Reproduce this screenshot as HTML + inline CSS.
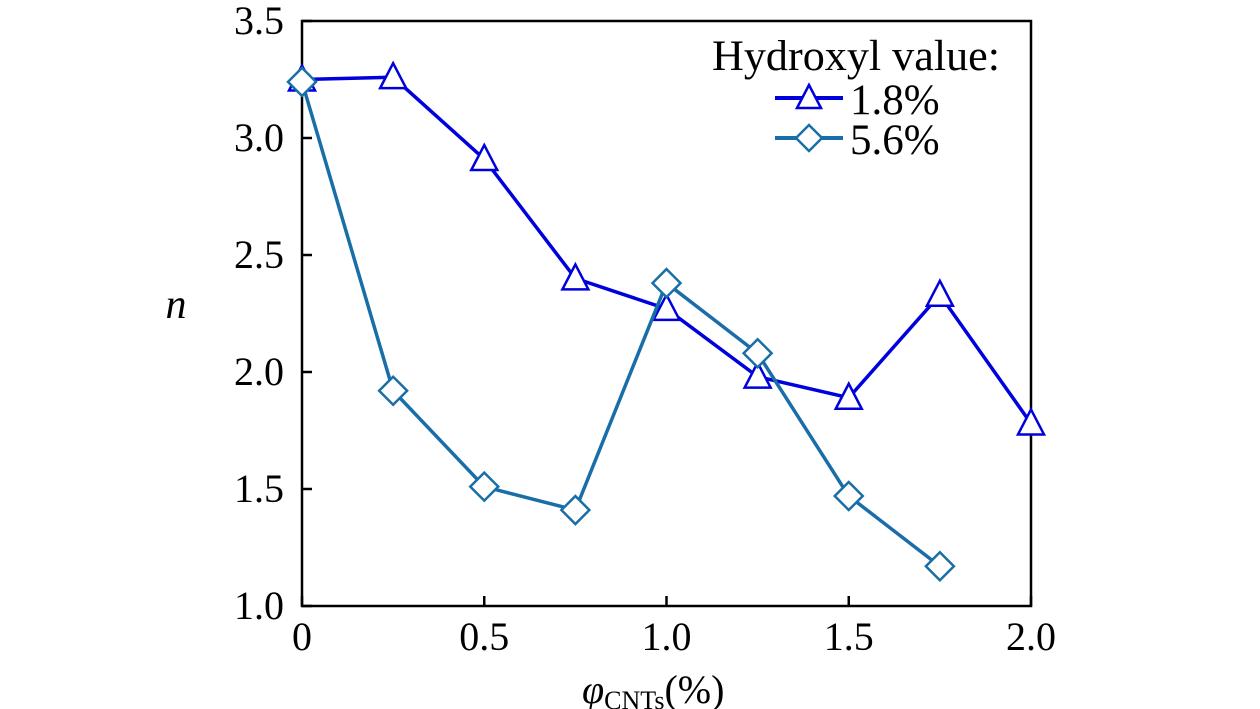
<!DOCTYPE html>
<html><head><meta charset="utf-8"><style>
body{margin:0;background:#fff;}
svg{display:block;font-family:"Liberation Serif",serif;}
</style></head><body>
<svg id="chart" width="1260" height="709">
<rect x="302" y="21" width="729" height="585" fill="none" stroke="#000" stroke-width="2.5"/>
<g id="axes"></g>
<g id="series"></g>
<text x="176" y="318" font-size="42" font-style="italic" text-anchor="middle">n</text>
<text x="582" y="703" font-size="40"><tspan font-style="italic">φ</tspan><tspan font-size="26" dy="6">CNTs</tspan><tspan dy="-6">(%)</tspan></text>
<g>
<text x="712" y="70" font-size="43" textLength="288" lengthAdjust="spacingAndGlyphs">Hydroxyl value:</text>
<g>
<line x1="775" y1="98" x2="843" y2="98" stroke="#0000dd" stroke-width="4"/>
<polygon points="809,85 797,108 821,108" fill="#fff" stroke="#0000dd" stroke-width="2.5"/>
<text x="850" y="114" font-size="43">1.8%</text></g>
<g>
<line x1="775" y1="138" x2="843" y2="138" stroke="#1a6ea8" stroke-width="4"/>
<polygon points="809,125 822,138 809,151 796,138" fill="#fff" stroke="#1a6ea8" stroke-width="2.5"/>
<text x="850" y="154" font-size="43">5.6%</text></g>
</g>
</svg>
<script>
const xValues=[0,0.25,0.5,0.75,1.0,1.25,1.5,1.75,2.0];
const series18=[3.25,3.26,2.91,2.40,2.27,1.98,1.89,2.33,1.78];
const series56=[3.24,1.92,1.51,1.41,2.38,2.08,1.47,1.17];
const xTicks=[0,0.5,1.0,1.5,2.0];
const xTickLabels=["0","0.5","1.0","1.5","2.0"];
const yTicks=[1.0,1.5,2.0,2.5,3.0,3.5];
const yTickLabels=["1.0","1.5","2.0","2.5","3.0","3.5"];
const NS="http://www.w3.org/2000/svg";
const X=v=>302+v/2*729, Y=v=>606-(v-1)/2.5*585;
function mk(t,a,p){const e=document.createElementNS(NS,t);for(const k in a)e.setAttribute(k,a[k]);p.appendChild(e);return e;}
const ax=document.getElementById('axes');
xTicks.forEach((v,i)=>{
 const l=mk('line',{x1:X(v),x2:X(v),y1:606,y2:596,stroke:'#000','stroke-width':2.5},ax);
 
 
 const t=mk('text',{x:X(v),y:650,'font-size':40,'text-anchor':'middle'},ax);t.textContent=xTickLabels[i];
 
 
});
yTicks.forEach((v,i)=>{
 const l=mk('line',{x1:302,x2:312,y1:Y(v),y2:Y(v),stroke:'#000','stroke-width':2.5},ax);
 
 
 const t=mk('text',{x:284,y:Y(v)+13,'font-size':40,'text-anchor':'end'},ax);t.textContent=yTickLabels[i];
 
 
});
const sg=document.getElementById('series');
function draw(vals,color,shape,name){
 const pts=vals.map((v,i)=>X(xValues[i])+','+Y(v)).join(' ');
 const pl=mk('polyline',{points:pts,fill:'none',stroke:color,'stroke-width':3.5},sg);
 
 
 vals.forEach((v,i)=>{
  const x=X(xValues[i]),y=Y(v);
  const p=shape==='tri'?`${x},${y-14} ${x-13},${y+11} ${x+13},${y+11}`:`${x},${y-14} ${x+14},${y} ${x},${y+14} ${x-14},${y}`;
  const m=mk('polygon',{points:p,fill:'#fff',stroke:color,'stroke-width':2.5},sg);
  
  
 });
}
draw(series18,'#0000dd','tri','series-1-8');
draw(series56,'#1a6ea8','dia','series-5-6');
</script>
</body></html>
